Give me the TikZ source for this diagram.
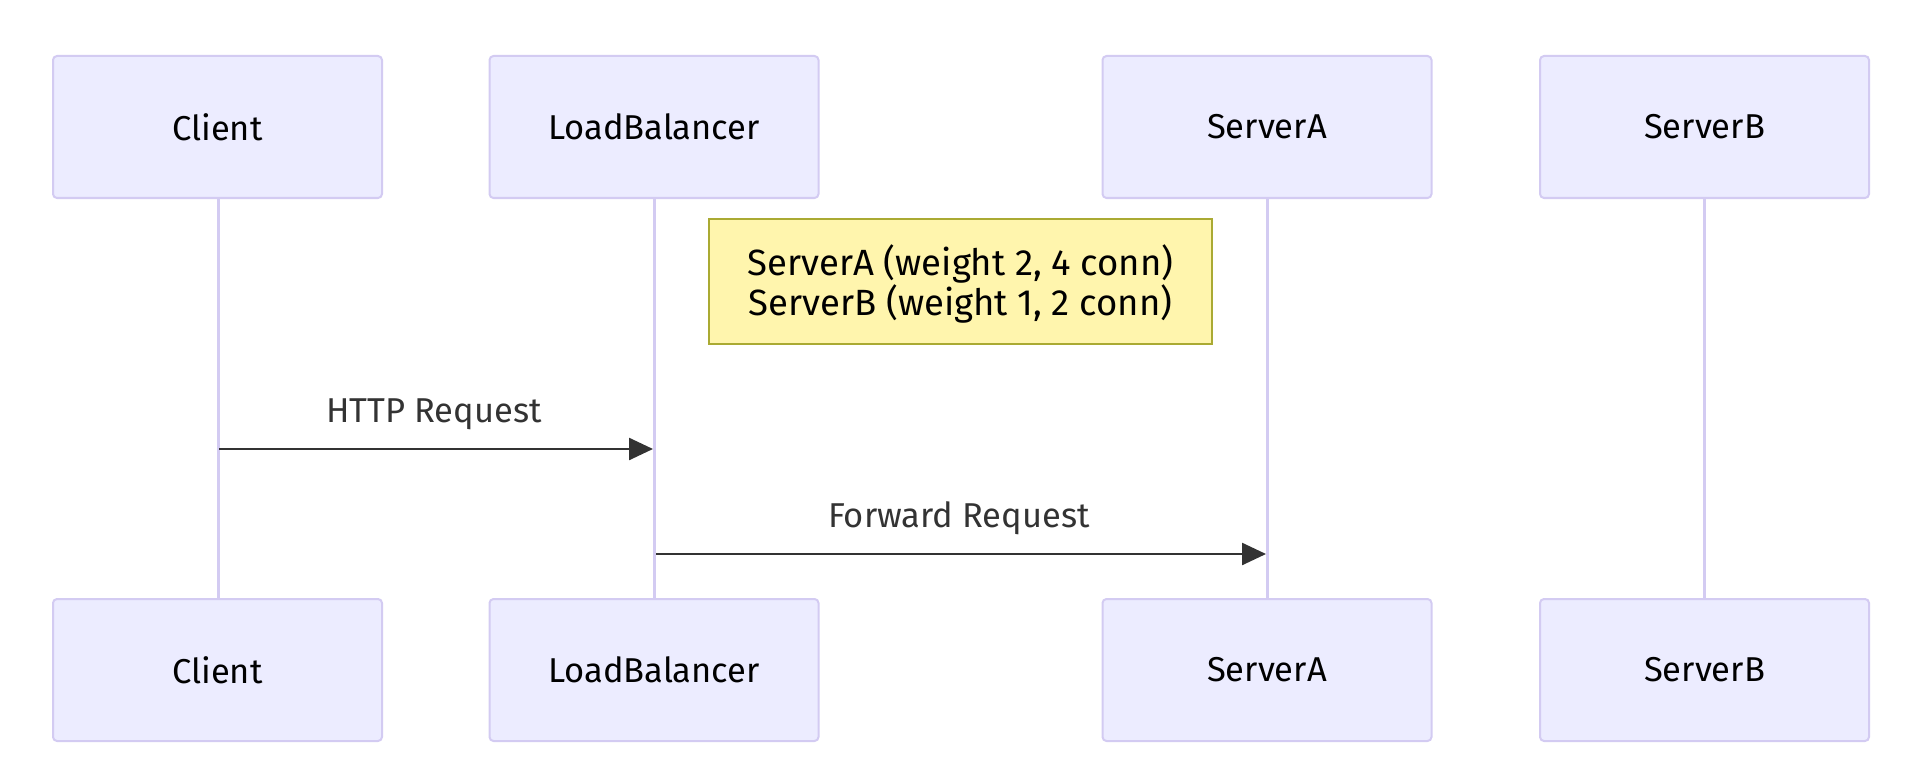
\documentclass[tikz,border=0pt]{standalone}
\usepackage{fontspec}
\setmainfont{Fira Sans}
\usetikzlibrary{arrows.meta}
\definecolor{actfill}{HTML}{ECECFF}
\definecolor{actline}{HTML}{D3CBF2}
\definecolor{notefill}{HTML}{FFF5AD}
\definecolor{noteline}{HTML}{AAAA33}
\definecolor{msg}{HTML}{333333}
\tikzset{
  actor/.style={draw=actline, fill=actfill, line width=2pt, rounded corners=4pt,
    minimum width=329pt, minimum height=142pt, inner sep=0pt,
    font=\fontsize{34.5}{40}\selectfont, text=black},
  lifeline/.style={draw=actline, line width=3pt},
  notebox/.style={draw=noteline, fill=notefill, line width=1.5pt,
    minimum width=503pt, minimum height=125pt, inner sep=0pt, align=center,
    font=\fontsize{36.5}{38}\selectfont, text=black},
  message/.style={draw=msg, line width=2.5pt, -{Triangle[length=24pt,width=22pt]}},
  msglabel/.style={font=\fontsize{34.5}{40}\selectfont, text=msg, inner sep=0pt}
}
\begin{document}
\begin{tikzpicture}[x=1pt,y=-1pt]
\useasboundingbox (0,0) rectangle (1918,778);
% lifelines
\coordinate (c1) at (218,197); \coordinate (c2) at (218,598);
\coordinate (l1) at (654,197); \coordinate (l2) at (654,598);
\coordinate (a1) at (1267,197); \coordinate (a2) at (1267,598);
\coordinate (b1) at (1704,197); \coordinate (b2) at (1704,598);
\draw[lifeline] (c1) -- (c2);
\draw[lifeline] (l1) -- (l2);
\draw[lifeline] (a1) -- (a2);
\draw[lifeline] (b1) -- (b2);
% actors top
\node[actor] (clientT) at (217.5,127) {Client};
\node[actor] (lbT) at (654,127) {LoadBalancer};
\node[actor] (saT) at (1267,127) {ServerA};
\node[actor] (sbT) at (1704.5,127) {ServerB};
% actors bottom
\node[actor] (clientB) at (217.5,670) {Client};
\node[actor] (lbB) at (654,670) {LoadBalancer};
\node[actor] (saB) at (1267,670) {ServerA};
\node[actor] (sbB) at (1704.5,670) {ServerB};
% note
\node[notebox] (note) at (960.5,281.5) {};
\node[font=\fontsize{36.5}{38}\selectfont, align=center, inner sep=0pt] (notetext) at (960.5,284) {ServerA (weight 2, 4 conn)\\ServerB (weight 1, 2 conn)};
% messages
\coordinate (m1s) at (219,449); \coordinate (m1e) at (653,449);
\coordinate (m2s) at (656,554); \coordinate (m2e) at (1266,554);
\draw[message] (m1s) -- (m1e);
\draw[message] (m2s) -- (m2e);
\node[msglabel] (lab1) at (434,414) {HTTP Request};
\node[msglabel] (lab2) at (959,518) {Forward Request};
\end{tikzpicture}
\end{document}
